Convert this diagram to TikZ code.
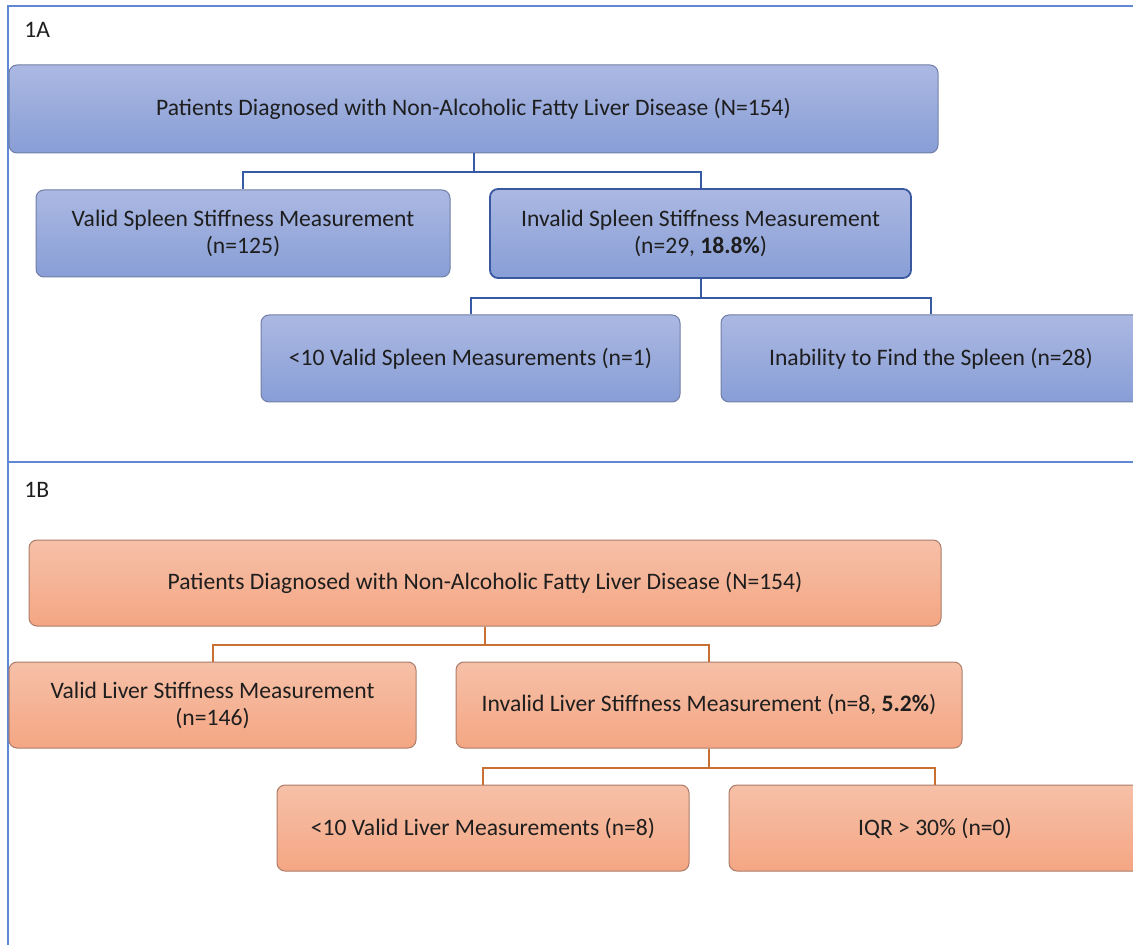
\documentclass[tikz,border=0pt]{standalone}
\usepackage{fontspec}
\setmainfont{Carlito}

\definecolor{spleentop}{RGB}{171,184,226}
\definecolor{spleenbot}{RGB}{136,158,214}
\definecolor{spleenedge}{RGB}{112,126,166}
\definecolor{spleenhot}{RGB}{58,88,160}
\definecolor{spleenline}{RGB}{55,90,165}
\definecolor{livertop}{RGB}{246,192,168}
\definecolor{liverbot}{RGB}{244,166,131}
\definecolor{liveredge}{RGB}{172,124,104}
\definecolor{liverline}{RGB}{200,112,52}
\definecolor{framecol}{RGB}{96,136,212}
\definecolor{ink}{RGB}{30,30,30}

\begin{document}
\begin{tikzpicture}[
    x=0.5pt, y=-0.5pt,
    font=\fontsize{11.8}{13.5}\selectfont,
    box/.style={draw, rounded corners=4pt, align=center, inner sep=2pt, text=ink, line width=0.5pt},
    spleenbox/.style={box, draw=spleenedge, top color=spleentop, bottom color=spleenbot},
    liverbox/.style={box, draw=liveredge, top color=livertop, bottom color=liverbot},
    spleenlink/.style={draw=spleenline, line width=1pt},
    liverlink/.style={draw=liverline, line width=1pt},
    frame/.style={draw=framecol, line width=0.75pt},
    panel/.style={anchor=west, inner sep=0pt, text=ink},
  ]

  \useasboundingbox (0,0) rectangle (1133,945);
  \clip (0,0) rectangle (1133,945);

  % --- Frame ---
  \draw[frame] (1133,6) -- (8,6) -- (8,945);
  \draw[frame] (8,462) -- (1133,462);

  % --- Panel 1A: spleen ---
  \node[panel] (lblA) at (24,30) {1A};

  \node[spleenbox, minimum width=464.5pt, minimum height=44pt] (sp_all) at (473.5,109) {Patients Diagnosed with Non-Alcoholic Fatty Liver Disease (N=154)};
  \node[spleenbox, minimum width=207pt, minimum height=43.5pt] (sp_valid) at (243,233.5) {Valid Spleen Stiffness Measurement\\(n=125)};
  \node[spleenbox, draw=spleenhot, line width=0.9pt, minimum width=210.5pt, minimum height=44.5pt] (sp_invalid) at (700.5,233.5) {Invalid Spleen Stiffness Measurement\\(n=29, \textbf{18.8\%})};
  \node[spleenbox, minimum width=209.5pt, minimum height=43.5pt] (sp_few) at (470.5,358.5) {<10 Valid Spleen Measurements (n=1)};
  \node[spleenbox, minimum width=210pt, minimum height=43.5pt] (sp_nofind) at (931,358.5) {Inability to Find the Spleen (n=28)};

  \draw[spleenlink] (sp_all.south) -- ++(0,19) -| (sp_valid.north);
  \draw[spleenlink] (sp_all.south) -- ++(0,19) -| (sp_invalid.north);
  \draw[spleenlink] (sp_invalid.south) -- ++(0,19) -| (sp_few.north);
  \draw[spleenlink] (sp_invalid.south) -- ++(0,19) -| (sp_nofind.north);

  % --- Panel 1B: liver ---
  \node[panel] (lblB) at (24,490) {1B};

  \node[liverbox, minimum width=456pt, minimum height=43pt] (lv_all) at (485,583) {Patients Diagnosed with Non-Alcoholic Fatty Liver Disease (N=154)};
  \node[liverbox, minimum width=203.5pt, minimum height=43pt] (lv_valid) at (212.5,705) {Valid Liver Stiffness Measurement\\(n=146)};
  \node[liverbox, minimum width=253pt, minimum height=43pt] (lv_invalid) at (709,705) {Invalid Liver Stiffness Measurement (n=8, \textbf{5.2\%})};
  \node[liverbox, minimum width=206pt, minimum height=43pt] (lv_few) at (483,828) {<10 Valid Liver Measurements (n=8)};
  \node[liverbox, minimum width=206pt, minimum height=43pt] (lv_iqr) at (935,828) {IQR > 30\% (n=0)};

  \draw[liverlink] (lv_all.south) -- ++(0,18) -| (lv_valid.north);
  \draw[liverlink] (lv_all.south) -- ++(0,18) -| (lv_invalid.north);
  \draw[liverlink] (lv_invalid.south) -- ++(0,19) -| (lv_few.north);
  \draw[liverlink] (lv_invalid.south) -- ++(0,19) -| (lv_iqr.north);

\end{tikzpicture}
\end{document}
